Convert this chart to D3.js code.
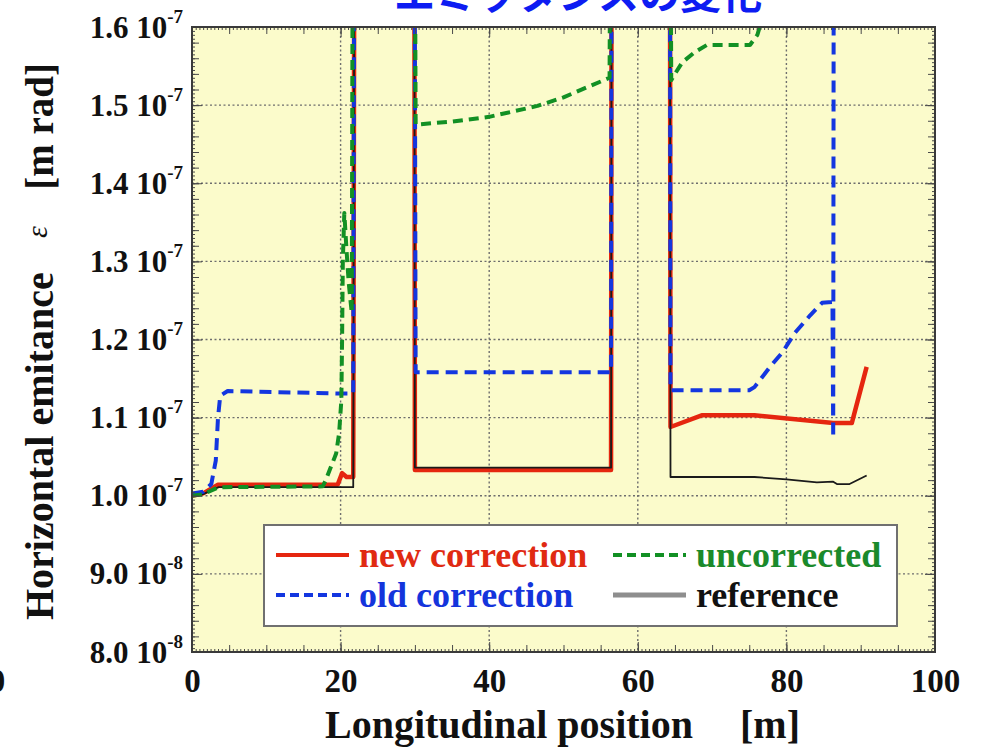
<!DOCTYPE html>
<html>
<head>
<meta charset="utf-8">
<script src="https://cdn.jsdelivr.net/npm/d3@7"></script>
<style>
  html, body { margin: 0; padding: 0; background: #ffffff; }
  svg { display: block; }
  text { font-family: "Liberation Serif", "Times New Roman", serif; font-weight: bold; }
</style>
</head>
<body>
<svg id="chart" width="981" height="748"></svg>
<script>
// Horizontal emittance along the beam line (values in m rad).
// OFF marks points that lie above the plotted range (clipped at the frame).
const OFF = 2.0e-7;

const newCorrX = [0, 1.5, 3.5, 19.6, 20.2, 20.8, 21.7, 21.9, 29.9, 30.0, 56.4, 56.5, 64.3, 64.4, 68.6, 75.7, 86.3, 88.8, 90.8];
const newCorrY = [1.000e-7, 1.003e-7, 1.014e-7, 1.014e-7, 1.029e-7, 1.024e-7, 1.024e-7, OFF, OFF, 1.033e-7, 1.033e-7, OFF, OFF, 1.088e-7, 1.103e-7, 1.103e-7, 1.093e-7, 1.093e-7, 1.165e-7];

const uncorrX = [0, 1.5, 3.6, 17.6, 18.0, 18.7, 19.4, 19.8, 20.1, 20.2, 20.3, 20.5, 20.8, 21.1, 21.5, 21.7, 29.9, 30.1, 35.0, 40.0, 46.5, 50.0, 53.2, 56.2, 56.4, 64.3, 64.5, 65.0, 66.0, 67.7, 69.3, 75.1, 76.1, 77.0];
const uncorrY = [1.000e-7, 1.002e-7, 1.011e-7, 1.012e-7, 1.020e-7, 1.037e-7, 1.054e-7, 1.080e-7, 1.122e-7, 1.200e-7, 1.300e-7, 1.362e-7, 1.314e-7, 1.272e-7, 1.234e-7, OFF, OFF, 1.475e-7, 1.479e-7, 1.485e-7, 1.499e-7, 1.510e-7, 1.523e-7, 1.535e-7, OFF, OFF, 1.532e-7, 1.540e-7, 1.555e-7, 1.568e-7, 1.577e-7, 1.577e-7, 1.590e-7, 1.620e-7];

const oldCorrX = [0, 1.5, 2.6, 3.2, 3.5, 3.8, 4.8, 19.4, 21.7, 21.9, 29.9, 30.1, 56.4, 56.5, 64.3, 64.4, 75.0, 75.7, 77.8, 79.5, 81.1, 83.2, 84.8, 86.2, 86.3, 86.4];
const oldCorrY = [1.003e-7, 1.005e-7, 1.015e-7, 1.045e-7, 1.100e-7, 1.128e-7, 1.134e-7, 1.131e-7, 1.131e-7, OFF, OFF, 1.158e-7, 1.158e-7, OFF, OFF, 1.135e-7, 1.135e-7, 1.139e-7, 1.165e-7, 1.184e-7, 1.208e-7, 1.231e-7, 1.247e-7, 1.248e-7, 1.074e-7, OFF];

const refX = [0, 1.5, 3.6, 21.7, 21.9, 29.9, 30.0, 56.4, 56.5, 64.3, 64.4, 75.7, 80.0, 84.1, 86.3, 86.8, 88.5, 90.8];
const refY = [1.000e-7, 1.002e-7, 1.011e-7, 1.011e-7, OFF, OFF, 1.036e-7, 1.036e-7, OFF, OFF, 1.024e-7, 1.024e-7, 1.021e-7, 1.017e-7, 1.018e-7, 1.015e-7, 1.015e-7, 1.026e-7];

const xTicks = [0, 20, 40, 60, 80, 100];
const yTicks = [0.8e-7, 0.9e-7, 1.0e-7, 1.1e-7, 1.2e-7, 1.3e-7, 1.4e-7, 1.5e-7, 1.6e-7];
const xGrid = [20, 40, 60, 80];
const yGrid = [0.9e-7, 1.0e-7, 1.1e-7, 1.2e-7, 1.3e-7, 1.4e-7, 1.5e-7];

const legendRows = [
  { name: "new correction", color: "#e5260f", text: "#e02a12", dash: null,   col: 0, row: 0, width: 4 },
  { name: "uncorrected",    color: "#129024", text: "#1b8a2b", dash: "9,5",  col: 1, row: 0, width: 4 },
  { name: "old correction", color: "#1336e0", text: "#1434dc", dash: "9,5",  col: 0, row: 1, width: 4 },
  { name: "reference",      color: "#8e8e8e", text: "#111111", dash: null,   col: 1, row: 1, width: 5 }
];

const series = [
  { xs: newCorrX, ys: newCorrY, color: "#e5260f", width: 4.5, dash: null },
  { xs: refX,     ys: refY,     color: "#1a1a1a", width: 1.8, dash: null },
  { xs: oldCorrX, ys: oldCorrY, color: "#1336e0", width: 4,   dash: "12,7" },
  { xs: uncorrX,  ys: uncorrY,  color: "#129024", width: 4,   dash: "10,6" }
];

const svg = d3.select("#chart");
const pL = 192, pR = 935, pT = 27, pB = 652;
const x = d3.scaleLinear().domain([0, 100]).range([pL, pR]);
const y = d3.scaleLinear().domain([0.8e-7, 1.6e-7]).range([pB, pT]);

// title (partly above the page edge)
svg.append("text")
  .attr("x", 578).attr("y", 9)
  .attr("text-anchor", "middle")
  .style("font-family", "'Noto Sans CJK JP', sans-serif")
  .style("font-weight", "bold")
  .style("font-size", "41px")
  .attr("fill", "#0d1cf2")
  .text("エミッタンスの変化");

// plot background
svg.append("rect")
  .attr("x", pL).attr("y", pT)
  .attr("width", pR - pL).attr("height", pB - pT)
  .attr("fill", "#fbfbcb");

// dotted grid
const grid = svg.append("g").attr("stroke", "#6e6e6e").attr("stroke-width", 1.4).attr("stroke-dasharray", "2,2.5");
grid.selectAll("line.v").data(xGrid).join("line").attr("class", "v")
  .attr("x1", d => x(d)).attr("x2", d => x(d)).attr("y1", pT).attr("y2", pB);
grid.selectAll("line.h").data(yGrid).join("line").attr("class", "h")
  .attr("x1", pL).attr("x2", pR).attr("y1", d => y(d)).attr("y2", d => y(d));

// data lines, clipped to the frame
svg.append("clipPath").attr("id", "plotClip")
  .append("rect").attr("x", pL).attr("y", pT).attr("width", pR - pL).attr("height", pB - pT);

const line = d3.line().x(d => x(d[0])).y(d => y(d[1]));
const lines = svg.append("g").attr("clip-path", "url(#plotClip)");
series.forEach(s => {
  lines.append("path")
    .datum(s.xs.map((v, i) => [v, s.ys[i]]))
    .attr("d", line)
    .attr("fill", "none")
    .attr("stroke", s.color)
    .attr("stroke-width", s.width)
    .attr("stroke-dasharray", s.dash)
    .attr("stroke-linejoin", "round");
});

// legend
const lg = svg.append("g");
lg.append("rect").attr("x", 264).attr("y", 525).attr("width", 633).attr("height", 101)
  .attr("fill", "#ffffff").attr("stroke", "#707070").attr("stroke-width", 2);
legendRows.forEach(r => {
  const lx = r.col === 0 ? 276 : 613;
  const ly = r.row === 0 ? 555 : 595;
  lg.append("line").attr("x1", lx).attr("x2", lx + 73).attr("y1", ly).attr("y2", ly)
    .attr("stroke", r.color).attr("stroke-width", r.width).attr("stroke-dasharray", r.dash);
  lg.append("text").attr("x", lx + 83).attr("y", ly + 12)
    .style("font-size", "36px").attr("fill", r.text).text(r.name);
});

// frame ticks (all pointing inward)
const xMinor = d3.range(0, 100.01, 0.5);
const xMid = d3.range(0, 100.01, 5);
const yMinor = d3.range(0, 161).map(i => 0.8e-7 + i * 0.005e-7);
const yMid = d3.range(0, 41).map(i => 0.8e-7 + i * 0.02e-7);

function tickAxis(axisFn, scale, values, size, transform) {
  const g = svg.append("g").attr("transform", transform)
    .call(axisFn(scale).tickValues(values).tickSize(-size).tickFormat(""));
  g.select(".domain").remove();
  g.selectAll(".tick line").attr("stroke", "#4a4a4a").attr("stroke-width", 1);
  return g;
}
[[xMinor, 3], [xMid, 7], [xTicks, 10]].forEach(([vals, s]) => {
  tickAxis(d3.axisBottom, x, vals, s, `translate(0,${pB})`);
  tickAxis(d3.axisTop, x, vals, s, `translate(0,${pT})`);
});
[[yMinor, 3], [yMid, 7], [yTicks, 10]].forEach(([vals, s]) => {
  tickAxis(d3.axisLeft, y, vals, s, `translate(${pL},0)`);
  tickAxis(d3.axisRight, y, vals, s, `translate(${pR},0)`);
});

svg.append("rect")
  .attr("x", pL).attr("y", pT)
  .attr("width", pR - pL).attr("height", pB - pT)
  .attr("fill", "none").attr("stroke", "#3a3a3a").attr("stroke-width", 2);

// x tick labels
const xl = svg.append("g").attr("transform", `translate(0,${pB})`)
  .call(d3.axisBottom(x).tickValues(xTicks).tickSize(0).tickPadding(0).tickFormat(d3.format("d")));
xl.select(".domain").remove();
xl.selectAll(".tick text")
  .attr("y", 40).attr("dy", null)
  .style("font-size", "33px").style("font-family", "'Liberation Serif', serif").style("font-weight", "bold")
  .attr("fill", "#111");
svg.append("text").attr("x", -3).attr("y", 692).attr("text-anchor", "middle")
  .style("font-size", "33px").attr("fill", "#111").text("0");

// y tick labels: mantissa and power of ten
function splitSci(v) {
  const e = Math.floor(Math.log10(v) + 1e-9);
  return { m: (v / Math.pow(10, e)).toFixed(1), e: e };
}
const yl = svg.append("g").attr("transform", `translate(${pL},0)`)
  .call(d3.axisLeft(y).tickValues(yTicks).tickSize(0).tickFormat(""));
yl.select(".domain").remove();
yl.selectAll(".tick").each(function (d) {
  const s = splitSci(d);
  const t = d3.select(this).select("text")
    .attr("x", -9).attr("dy", null).attr("y", 10)
    .attr("text-anchor", "end")
    .style("font-size", "31px").style("font-family", "'Liberation Serif', serif").style("font-weight", "bold")
    .attr("fill", "#111");
  t.text(null);
  t.append("tspan").text(s.m + " 10");
  t.append("tspan").attr("dy", -15).style("font-size", "19px").text(String(s.e));
});

// axis titles
svg.append("text").attr("x", 325).attr("y", 738)
  .style("font-size", "40px").attr("fill", "#111").text("Longitudinal position");
svg.append("text").attr("x", 800).attr("y", 738).attr("text-anchor", "end")
  .style("font-size", "40px").attr("fill", "#111").text("[m]");

const yt = svg.append("g").attr("transform", "translate(53,0)");
yt.append("text").attr("transform", "translate(0,620) rotate(-90)")
  .style("font-size", "40px").attr("fill", "#111").text("Horizontal emitance");
yt.append("text").attr("transform", "translate(-6,232) rotate(-90)").attr("text-anchor", "middle")
  .style("font-size", "30px").style("font-weight", "normal").style("font-style", "italic")
  .attr("fill", "#111").text("ε");
yt.append("text").attr("transform", "translate(0,63) rotate(-90)").attr("text-anchor", "end")
  .style("font-size", "39px").attr("fill", "#111").text("[m rad]");
</script>
</body>
</html>
